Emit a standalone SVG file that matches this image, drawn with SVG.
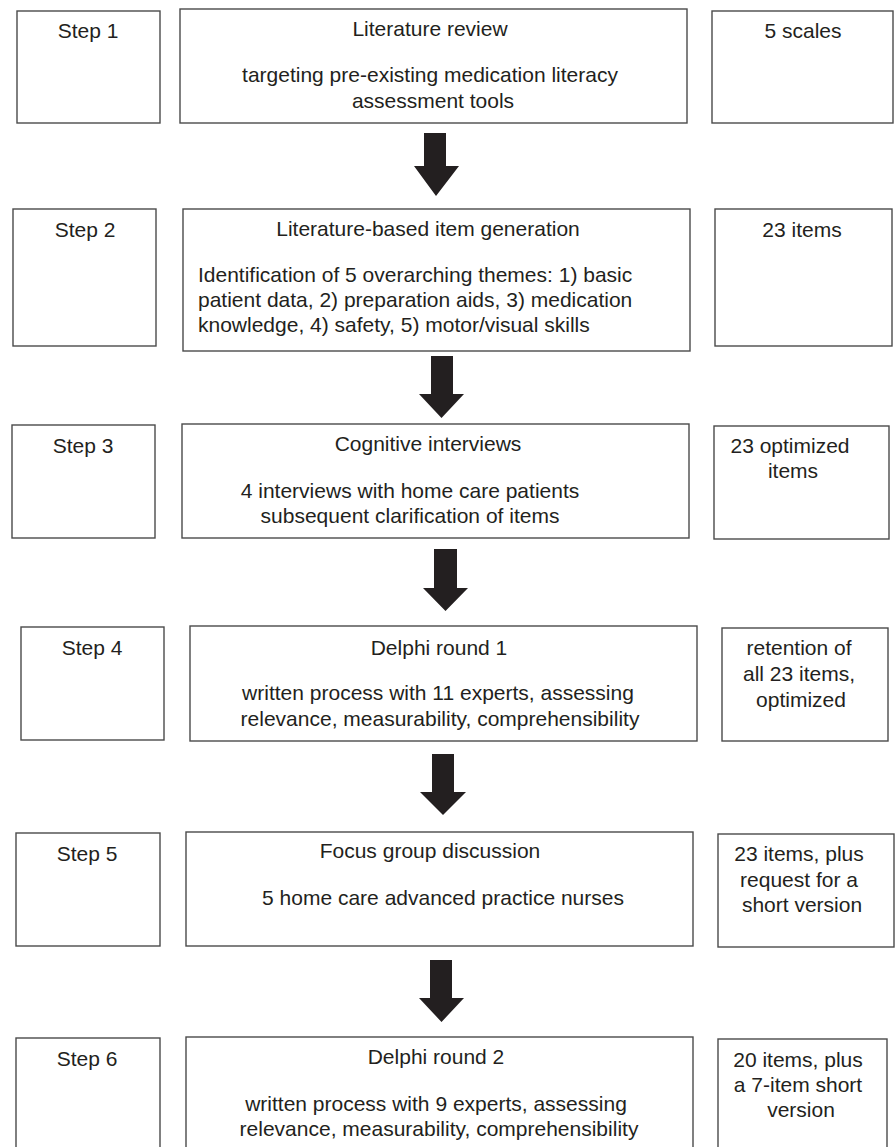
<svg xmlns="http://www.w3.org/2000/svg" width="895" height="1147" viewBox="0 0 895 1147">
<style>
.box{fill:#fff;stroke:#4a4a4a;stroke-width:1.4}
.t{font-family:"Liberation Sans",Arial,sans-serif;font-size:21px;fill:#231f20;text-anchor:middle}
.l{text-anchor:start}
.arr{fill:#231f20}
</style>
<rect width="895" height="1147" fill="#fff"/>
<g id="step1">
<rect class="box" x="17" y="11" width="143" height="112"/>
<text class="t" x="88" y="38">Step 1</text>
</g>
<g id="lit-review">
<rect class="box" x="180" y="9" width="507" height="114"/>
<text class="t" x="430" y="36">Literature review</text>
<text class="t" x="430" y="82">targeting pre-existing medication literacy</text>
<text class="t" x="433" y="108">assessment tools</text>
</g>
<g id="out1">
<rect class="box" x="712" y="11" width="181" height="112"/>
<text class="t" x="803" y="38">5 scales</text>
</g>
<g id="step2">
<rect class="box" x="13" y="209" width="143" height="137"/>
<text class="t" x="85" y="237">Step 2</text>
</g>
<g id="item-gen">
<rect class="box" x="183" y="209" width="507" height="142"/>
<text class="t" x="428" y="236">Literature-based item generation</text>
<text class="t l" x="198" y="282">Identification of 5 overarching themes: 1) basic</text>
<text class="t l" x="198" y="307">patient data, 2) preparation aids, 3) medication</text>
<text class="t l" x="198" y="332">knowledge, 4) safety, 5) motor/visual skills</text>
</g>
<g id="out2">
<rect class="box" x="715" y="209" width="177" height="137"/>
<text class="t" x="802" y="237">23 items</text>
</g>
<g id="step3">
<rect class="box" x="12" y="425" width="143" height="113"/>
<text class="t" x="83" y="453">Step 3</text>
</g>
<g id="cog-int">
<rect class="box" x="182" y="424" width="507" height="114"/>
<text class="t" x="428" y="451">Cognitive interviews</text>
<text class="t" x="410" y="498">4 interviews with home care patients</text>
<text class="t" x="410" y="523">subsequent clarification of items</text>
</g>
<g id="out3">
<rect class="box" x="714" y="426" width="175" height="113"/>
<text class="t" x="790" y="453">23 optimized</text>
<text class="t" x="793" y="478">items</text>
</g>
<g id="step4">
<rect class="box" x="21" y="627" width="143" height="113"/>
<text class="t" x="92" y="655">Step 4</text>
</g>
<g id="delphi1">
<rect class="box" x="190" y="626" width="507" height="115"/>
<text class="t" x="439" y="655">Delphi round 1</text>
<text class="t" x="438" y="700">written process with 11 experts, assessing</text>
<text class="t" x="440" y="726">relevance, measurability, comprehensibility</text>
</g>
<g id="out4">
<rect class="box" x="722" y="628" width="166" height="113"/>
<text class="t" x="799" y="655">retention of</text>
<text class="t" x="799" y="681">all 23 items,</text>
<text class="t" x="801" y="707">optimized</text>
</g>
<g id="step5">
<rect class="box" x="16" y="833" width="144" height="113"/>
<text class="t" x="87" y="861">Step 5</text>
</g>
<g id="focus">
<rect class="box" x="186" y="832" width="507" height="114"/>
<text class="t" x="430" y="858">Focus group discussion</text>
<text class="t" x="443" y="905">5 home care advanced practice nurses</text>
</g>
<g id="out5">
<rect class="box" x="718" y="834" width="176" height="113"/>
<text class="t" x="799" y="861">23 items, plus</text>
<text class="t" x="799" y="887">request for a</text>
<text class="t" x="802" y="912">short version</text>
</g>
<g id="step6">
<rect class="box" x="16" y="1038" width="144" height="120"/>
<text class="t" x="87" y="1066">Step 6</text>
</g>
<g id="delphi2">
<rect class="box" x="186" y="1037" width="507" height="120"/>
<text class="t" x="436" y="1064">Delphi round 2</text>
<text class="t" x="436" y="1111">written process with 9 experts, assessing</text>
<text class="t" x="439" y="1136">relevance, measurability, comprehensibility</text>
</g>
<g id="out6">
<rect class="box" x="718" y="1039" width="169" height="120"/>
<text class="t" x="798" y="1067">20 items, plus</text>
<text class="t" x="798" y="1092">a 7-item short</text>
<text class="t" x="801" y="1117">version</text>
</g>
<g id="connectors">
<polygon class="arr" points="424,133 446,133 446,166 459,166 436,196 414,166 424,166"/>
<polygon class="arr" points="431,356 453,356 453,394 464,394 441.5,418 419,394 431,394"/>
<polygon class="arr" points="434,549 457,549 457,588 468,588 445.5,611 423,588 434,588"/>
<polygon class="arr" points="432,754 454,754 454,792 466,792 443,815 420,792 432,792"/>
<polygon class="arr" points="430,960 452,960 452,998 464,998 441.5,1022 419,998 430,998"/>
</g>
</svg>
